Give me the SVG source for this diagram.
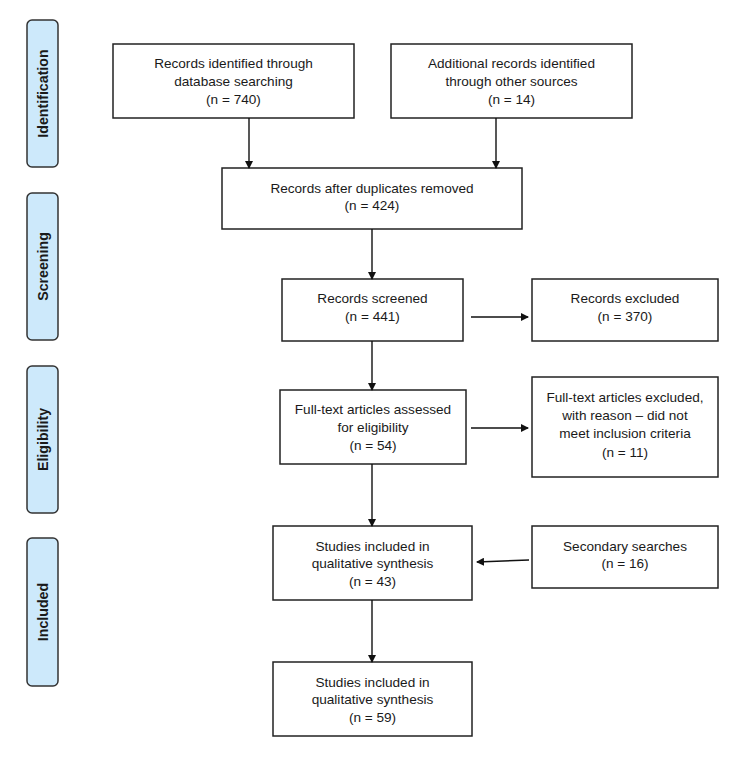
<svg xmlns="http://www.w3.org/2000/svg" width="750" height="768" viewBox="0 0 750 768">
<defs>
<style>
.box{fill:#fff;stroke:#222;stroke-width:1.5}
.side{fill:#cde9fb;stroke:#333;stroke-width:1.5}
.t{font-family:"Liberation Sans",Arial,sans-serif;font-size:13.6px;fill:#1a1a1a;text-anchor:middle}
.st{font-family:"Liberation Sans",Arial,sans-serif;font-size:14.2px;font-weight:bold;fill:#1a1a1a;text-anchor:middle}
.c{stroke:#111;stroke-width:1.4;fill:none}
</style>
<marker id="ah" markerWidth="8" markerHeight="8" refX="7" refY="4" orient="auto" markerUnits="userSpaceOnUse">
<path d="M0,0 L8,4 L0,8 Z" fill="#111"/>
</marker>
</defs>

<g id="stage-identification"><rect class="side" x="27" y="20" width="31" height="147" rx="5"/><text class="st" transform="translate(47.5,93.5) rotate(-90)">Identification</text></g>
<g id="stage-screening"><rect class="side" x="27" y="193" width="31" height="147" rx="5"/><text class="st" transform="translate(47.5,266.5) rotate(-90)">Screening</text></g>
<g id="stage-eligibility"><rect class="side" x="27" y="366" width="31" height="147" rx="5"/><text class="st" transform="translate(47.5,439.5) rotate(-90)">Eligibility</text></g>
<g id="stage-included"><rect class="side" x="27" y="538" width="31" height="148" rx="5"/><text class="st" transform="translate(47.5,612) rotate(-90)">Included</text></g>

<g id="n1"><rect class="box" x="113" y="44" width="241" height="74"/>
<text class="t" x="233.5" y="68">Records identified through</text>
<text class="t" x="233.5" y="86">database searching</text>
<text class="t" x="233.5" y="104">(n = 740)</text></g>

<g id="n2"><rect class="box" x="391" y="44" width="241" height="74"/>
<text class="t" x="511.5" y="68">Additional records identified</text>
<text class="t" x="511.5" y="86">through other sources</text>
<text class="t" x="511.5" y="104">(n = 14)</text></g>

<g id="n3"><rect class="box" x="222" y="168" width="300" height="61"/>
<text class="t" x="372" y="193">Records after duplicates removed</text>
<text class="t" x="372" y="210">(n = 424)</text></g>

<g id="n4"><rect class="box" x="282" y="279" width="181" height="62"/>
<text class="t" x="372.5" y="303">Records screened</text>
<text class="t" x="372.5" y="321">(n = 441)</text></g>

<g id="n5"><rect class="box" x="532" y="279" width="186" height="62"/>
<text class="t" x="625" y="303">Records excluded</text>
<text class="t" x="625" y="321">(n = 370)</text></g>

<g id="n6"><rect class="box" x="280" y="390" width="186" height="74"/>
<text class="t" x="373" y="414">Full-text articles assessed</text>
<text class="t" x="373" y="432">for eligibility</text>
<text class="t" x="373" y="450">(n = 54)</text></g>

<g id="n7"><rect class="box" x="532" y="377" width="186" height="100"/>
<text class="t" x="625" y="402">Full-text articles excluded,</text>
<text class="t" x="625" y="420">with reason – did not</text>
<text class="t" x="625" y="438">meet inclusion criteria</text>
<text class="t" x="625" y="457">(n = 11)</text></g>

<g id="n8"><rect class="box" x="273" y="526" width="199" height="74"/>
<text class="t" x="372.5" y="551">Studies included in</text>
<text class="t" x="372.5" y="568">qualitative synthesis</text>
<text class="t" x="372.5" y="586">(n = 43)</text></g>

<g id="n9"><rect class="box" x="532" y="526" width="186" height="62"/>
<text class="t" x="625" y="551">Secondary searches</text>
<text class="t" x="625" y="568">(n = 16)</text></g>

<g id="n10"><rect class="box" x="273" y="662" width="199" height="74"/>
<text class="t" x="372.5" y="687">Studies included in</text>
<text class="t" x="372.5" y="704">qualitative synthesis</text>
<text class="t" x="372.5" y="722">(n = 59)</text></g>

<g id="connectors">
<line class="c" x1="249" y1="118" x2="249" y2="168" marker-end="url(#ah)"/>
<line class="c" x1="496" y1="118" x2="496" y2="168" marker-end="url(#ah)"/>
<line class="c" x1="372" y1="229" x2="372" y2="279" marker-end="url(#ah)"/>
<line class="c" x1="471" y1="317" x2="528" y2="317" marker-end="url(#ah)"/>
<line class="c" x1="372" y1="341" x2="372" y2="390" marker-end="url(#ah)"/>
<line class="c" x1="471" y1="428" x2="528" y2="428" marker-end="url(#ah)"/>
<line class="c" x1="372" y1="464" x2="372" y2="526" marker-end="url(#ah)"/>
<line class="c" x1="529" y1="560" x2="477" y2="562" marker-end="url(#ah)"/>
<line class="c" x1="372" y1="600" x2="372" y2="662" marker-end="url(#ah)"/>
</g>
</svg>
